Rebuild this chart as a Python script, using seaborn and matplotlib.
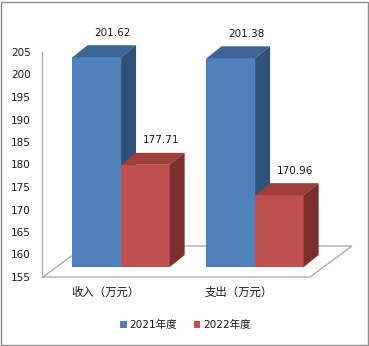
import numpy as np
import pandas as pd
import matplotlib
matplotlib.use('Agg')
import matplotlib.pyplot as plt
import seaborn as sns
from matplotlib.patches import Polygon, Patch, Rectangle
from matplotlib.transforms import ScaledTranslation, IdentityTransform

# ---- data ----
categories = ['收入（万元）', '支出（万元）']
years = ['2021年度', '2022年度']
values_2021 = [201.62, 201.38]
values_2022 = [177.71, 170.96]
yticks = [155, 160, 165, 170, 175, 180, 185, 190, 195, 200, 205]

front_colors = ['#4F81BD', '#C0504D']
top_colors = ['#3D6696', '#A03E3B']
side_colors = ['#2F5078', '#7B2E2B']

sns.set_style('white')
plt.rcParams['font.family'] = ['DejaVu Sans', 'Noto Sans CJK SC']

W, H = 369, 346
fig = plt.figure(figsize=(W / 100, H / 100), dpi=100)
fig.patch.set_facecolor('white')
ax = fig.add_axes([42 / W, (H - 277) / H, (310 - 42) / W, 225 / H])
ax.patch.set_alpha(0)

df = pd.DataFrame({
    'cat': categories * 2,
    'year': [years[0]] * len(categories) + [years[1]] * len(categories),
    'value': values_2021 + values_2022,
})
sns.barplot(data=df, x='cat', y='value', hue='year', hue_order=years,
            palette=front_colors, width=0.725, ax=ax, legend=False,
            saturation=1, errorbar=None)

base = yticks[0]
ax.set_xlim(-0.59, 1.41)
ax.set_ylim(base, yticks[-1])

# 3D look (pixel offsets)
lift = 10          # bars' front plane lifted above the axis plane
bdx, bdy = 15, 12  # bar depth
fdx, fdy = 42, 31  # floor depth

shift = ScaledTranslation(0, lift / 100, fig.dpi_scale_trans)

bars = sorted(ax.patches, key=lambda p: p.get_x())
for i, p in enumerate(bars):
    val = p.get_height()
    hue_i = i % 2
    p.set_y(base)
    p.set_height(val - base)
    p.set_transform(ax.transData + shift)
    p.set_clip_on(False)
    p.set_linewidth(0)
    p.set_facecolor(front_colors[hue_i])
    z = 3 + hue_i
    p.set_zorder(z)
    (x0, y0), (x1, y1) = (ax.transData + shift).transform(
        [(p.get_x(), base), (p.get_x() + p.get_width(), val)])
    top = Polygon([(x0, y1), (x1, y1), (x1 + bdx, y1 + bdy), (x0 + bdx, y1 + bdy)],
                  closed=True, transform=IdentityTransform(),
                  facecolor=top_colors[hue_i], edgecolor='none', zorder=z + 0.1)
    side = Polygon([(x1, y0), (x1, y1), (x1 + bdx, y1 + bdy), (x1 + bdx, y0 + bdy)],
                   closed=True, transform=IdentityTransform(),
                   facecolor=side_colors[hue_i], edgecolor='none', zorder=z + 0.1)
    for poly in (top, side):
        ax.add_artist(poly)
        poly.set_clip_on(False)
    ax.annotate(f'{val:.2f}', (p.get_x() + p.get_width() / 2, val),
                xytext=(16, lift + 24.5), textcoords='offset pixels',
                ha='center', va='center', fontsize=7.5, color='#1a1a1a')

# floor
(fx0, fy0), (fx1, _) = ax.transAxes.transform([(0, 0), (1, 0)])
floor = Polygon([(fx0 + 1, fy0), (fx1, fy0), (fx1 + fdx, fy0 + fdy), (fx0 + 1 + fdx, fy0 + fdy)],
                closed=True, transform=IdentityTransform(), facecolor='white',
                edgecolor='#A6A6A6', linewidth=0.9, zorder=1)
ax.add_artist(floor)
floor.set_clip_on(False)

# axes styling
for s in ['top', 'right', 'bottom']:
    ax.spines[s].set_visible(False)
ax.spines['left'].set_color('#A6A6A6')
ax.spines['left'].set_linewidth(0.9)
ax.set_yticks(yticks)
ax.set_yticklabels([str(t) for t in yticks])
ax.tick_params(axis='y', length=0, pad=8, labelsize=7.5, labelcolor='#1a1a1a')
ax.set_xticks(range(len(categories)))
ax.set_xticklabels(categories)
ax.tick_params(axis='x', length=0, pad=7, labelsize=8.2, labelcolor='#1a1a1a')
xoff = ScaledTranslation(-0.16, 0, fig.dpi_scale_trans)
for lab in ax.get_xticklabels():
    lab.set_transform(lab.get_transform() + xoff)
ax.set_xlabel('')
ax.set_ylabel('')
ax.grid(False)

handles = [Patch(facecolor=c, edgecolor='none') for c in front_colors]
fig.legend(handles, years, loc='center', bbox_to_anchor=(185.5 / W, 1 - 325 / H),
           ncol=2, frameon=False, fontsize=7.6, handlelength=0.6, handleheight=0.6,
           handletextpad=0.3, columnspacing=1.55, labelcolor='#1a1a1a')

fig.add_artist(Rectangle((1, 1), W - 2.5, H - 2.5, transform=IdentityTransform(),
                         fill=False, edgecolor='#8C8C8C', linewidth=1))

fig.savefig('out.png', dpi=100)
